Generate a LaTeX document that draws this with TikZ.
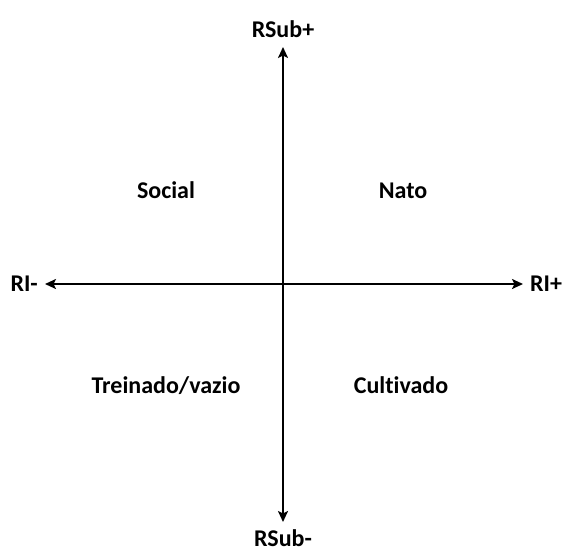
\documentclass[tikz,border=0pt]{standalone}
\usepackage{fontspec}
\setmainfont{Carlito}[Ligatures=NoCommon]
\usetikzlibrary{arrows.meta,positioning}

\begin{document}
\begin{tikzpicture}[x=1pt, y=-1pt,
  lbl/.style={font=\fontsize{24}{28}\selectfont\bfseries, inner sep=0pt},
  axis/.style={{Stealth[length=11pt,width=10pt,inset=2.5pt]}-{Stealth[length=11pt,width=10pt,inset=2.5pt]}, line width=2.6pt}]
  \useasboundingbox (0,0) rectangle (564,552);
  % axis ends
  \coordinate (top) at (283,47);
  \coordinate (bottom) at (283,522);
  \coordinate (left) at (45,284);
  \coordinate (right) at (523,284);
  \draw[axis] (top) -- (bottom);
  \draw[axis] (left) -- (right);
  % axis labels
  \node[lbl, anchor=base] (rsubp) at (283,37) {RSub+};
  \node[lbl, anchor=base] (rsubm) at (283,546) {RSub-};
  \node[lbl, left=7pt of left] (rim) {RI-};
  \node[lbl, right=7pt of right] (rip) {RI+};
  % quadrants
  \node[lbl, anchor=base] (social) at (166,198) {Social};
  \node[lbl, anchor=base] (nato) at (403,198) {Nato};
  \node[lbl, anchor=base] (treinado) at (166,393) {Treinado/vazio};
  \node[lbl, anchor=base] (cultivado) at (401,393) {Cultivado};
\end{tikzpicture}
\end{document}
